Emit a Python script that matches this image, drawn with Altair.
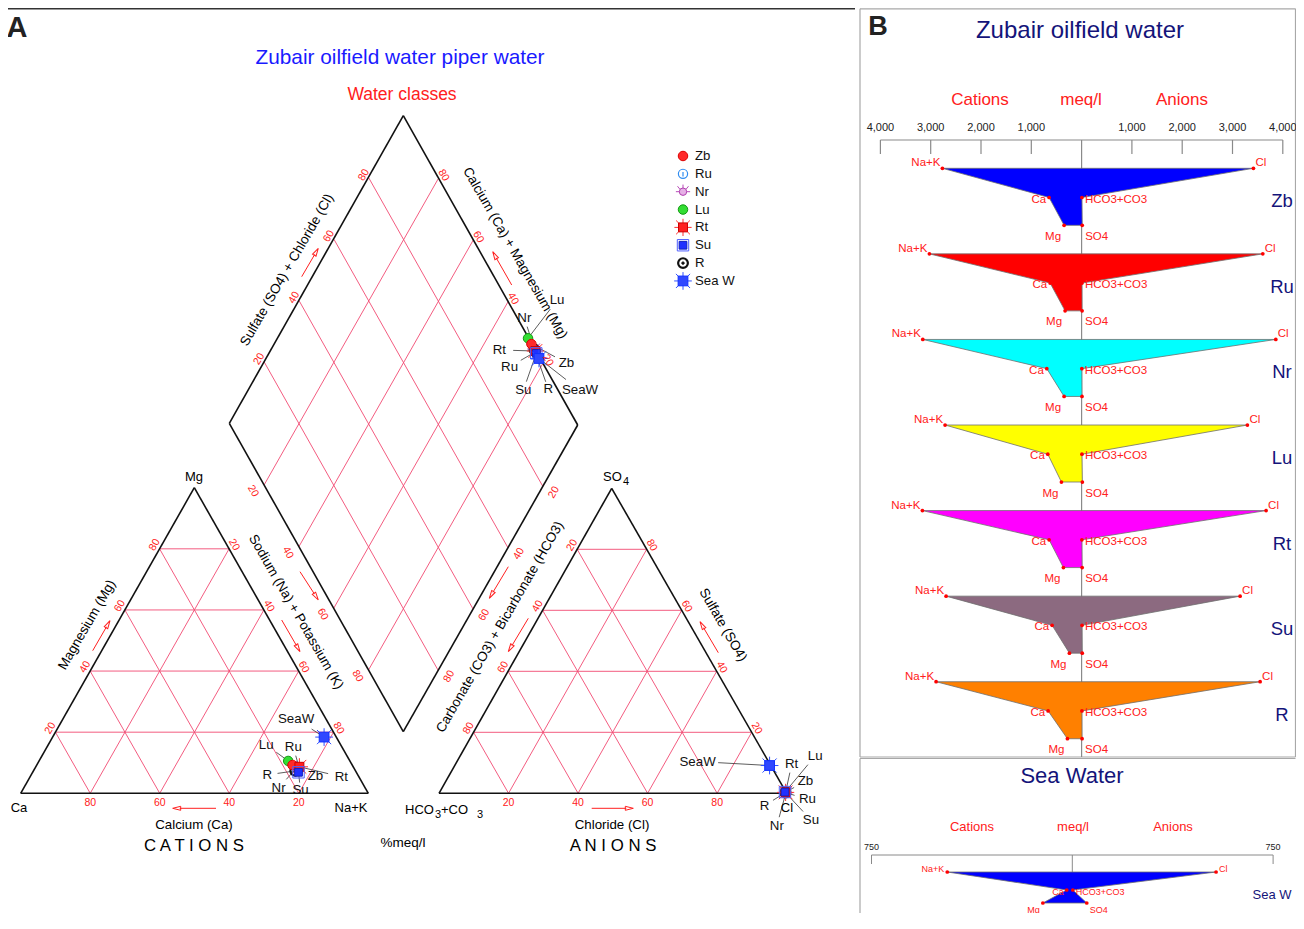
import math
import altair as alt
import pandas as pd

# ---------------- data (meq/l) ----------------
samples = ["Zb", "Ru", "Nr", "Lu", "Rt", "Su", "R"]
na_k = [2767, 3026, 3157, 2714, 3165, 2694, 2893]
ca = [646, 626, 692, 672, 646, 586, 666]
mg = [348, 328, 348, 401, 362, 242, 282]
cl = [3416, 3602, 3861, 3296, 3668, 3151, 3549]
hco3 = [6, 8, 5, 7, 6, 9, 7]
so4 = [12, 10, 8, 15, 11, 13, 9]

sea_sample = "Sea W"
sea_na_k, sea_ca, sea_mg = 467, 21, 110
sea_cl, sea_hco3, sea_so4 = 537, 2, 54

grid_pcts = [20, 40, 60, 80]
stiff_ticks = [1000, 2000, 3000, 4000]
sea_ticks = [750]
stiff_fill = ["#0000ff", "#ff0000", "#00ffff", "#ffff00", "#ff00ff", "#8c6a80", "#ff8000"]
sea_fill = "#0000ff"

# ---------------- layout (page pixel frame) ----------------
X0, X1, Y0, Y1 = 8.0, 1296.0, 8.0, 913.0
xs = alt.Scale(domain=[X0, X1], nice=False, zero=False)
ys = alt.Scale(domain=[Y0, Y1], nice=False, zero=False, reverse=True)
FONT = "Liberation Sans, Arial, Helvetica, sans-serif"
RED = "#ff2020"
GRID = "#f24a72"
NAVY = "#14147a"

CAT = ((20.7, 793.3), (368.3, 793.3), (194.3, 487.7))   # Ca, Na+K, Mg
AN = ((439.0, 793.3), (786.7, 793.3), (611.7, 488.3))    # HCO3, Cl, SO4
DL, DT, DR, DB = (229.3, 423.3), (403.3, 115.7), (577.7, 425.0), (403.3, 731.7)


def tern(tri, r, t):
    (lx, ly), (rx, ry), (tx, ty) = tri
    return (lx + r * (rx - lx) + t * (tx - lx), ly + r * (ry - ly) + t * (ty - ly))


def dia(a, c):
    return (DB[0] + a * (DR[0] - DB[0]) + c * (DL[0] - DB[0]),
            DB[1] + a * (DR[1] - DB[1]) + c * (DL[1] - DB[1]))


def X(f):
    return alt.X(f"{f}:Q", scale=xs, axis=None)


def Y(f):
    return alt.Y(f"{f}:Q", scale=ys, axis=None)


rules, texts, marks, heads, dots = [], [], [], [], []


def rule(p, q, color, w=1.0):
    rules.append(dict(x=p[0], y=p[1], x2=q[0], y2=q[1], color=color, w=w))


def text(x, y, s, size=12.0, color="#000000", angle=0, align="center",
         baseline="middle", weight="normal"):
    texts.append(dict(x=x, y=y, text=str(s), size=size, color=color, angle=angle,
                      align=align, baseline=baseline, weight=weight))


def add(p, d):
    return (p[0] + d[0], p[1] + d[1])


# ---------------- Piper grid ----------------
for tri in (CAT, AN):
    for p in grid_pcts:
        f = p / 100
        for a, b in [((0, f), (1 - f, f)), ((f, 0), (f, 1 - f)), ((1 - f, 0), (0, 1 - f))]:
            rule(tern(tri, *a), tern(tri, *b), GRID, 0.9)
for p in grid_pcts:
    f = p / 100
    rule(dia(f, 0), dia(f, 1), GRID, 0.9)
    rule(dia(0, f), dia(1, f), GRID, 0.9)
for tri in (CAT, AN):
    for i in range(3):
        rule(tri[i], tri[(i + 1) % 3], "#111111", 1.6)
for a, b in [(DL, DT), (DT, DR), (DR, DB), (DB, DL)]:
    rule(a, b, "#111111", 1.6)

# tick labels
TS = 10.5
for p in grid_pcts:
    f = p / 100
    x, y = add(tern(CAT, 1 - f, 0), (0, 9.5)); text(x, y, p, TS, RED)
    x, y = add(tern(CAT, 0, f), (-5, -4)); text(x, y, p, TS, RED, 300)
    x, y = add(tern(CAT, f, 1 - f), (5, -4)); text(x, y, p, TS, RED, 60)
    x, y = add(tern(AN, f, 0), (0, 9.5)); text(x, y, p, TS, RED)
    x, y = add(tern(AN, 0, 1 - f), (-5, -4)); text(x, y, p, TS, RED, 300)
    x, y = add(tern(AN, 1 - f, f), (5, -4)); text(x, y, p, TS, RED, 60)
    x, y = add(dia(f, 1), (-5, -3)); text(x, y, p, TS, RED, 300)
    x, y = add(dia(1, f), (5, -3)); text(x, y, p, TS, RED, 60)
    x, y = add(dia(0, 1 - f), (-11, 6)); text(x, y, p, TS, RED, 60)
    x, y = add(dia(1 - f, 0), (11, 6)); text(x, y, p, TS, RED, 300)

# axis titles and vertex names
AT = 13.5
text(87, 625, "Magnesium (Mg)", AT, angle=300)
text(296, 612, "Sodium (Na) + Potassium (K)", AT, angle=60)
text(194, 825, "Calcium (Ca)", 13.3)
text(194, 846, "C A T I O N S", 16.8)
text(194, 477, "Mg", 13)
text(19, 808, "Ca", 13)
text(351, 808, "Na+K", 13)
text(500, 627, "Carbonate (CO3) + Bicarbonate (HCO3)", AT, angle=300)
text(723, 625, "Sulfate (SO4)", AT, angle=60)
text(612, 825, "Chloride (Cl)", 13.3)
text(613, 846, "A N I O N S", 16.8)
text(603, 477, "SO", 13, align="left")
text(623, 482, "4", 11, align="left")
text(405, 810, "HCO", 13, align="left")
text(435, 814.5, "3", 11, align="left")
text(441, 810, "+CO", 13, align="left")
text(477, 814.5, "3", 11, align="left")
text(787, 808, "Cl", 13)
text(287, 270, "Sulfate (SO4) + Chloride (Cl)", AT, angle=300)
text(515, 253, "Calcium (Ca) + Magnesium (Mg)", AT, angle=60)
text(403, 843, "%meq/l", 13.5)
text(400, 58, "Zubair oilfield water piper water", 20.8, "#1a1aff")
text(402, 95, "Water classes", 17.5, RED)
text(17, 28, "A", 29, "#222222", weight="bold")
rule((X0, 8.8), (855, 8.8), "#333333", 1.6)

# red direction arrows
ARROWS = [((92.7, 650.7), (110, 620.7)), ((281.7, 620), (300, 651.7)),
          ((300, 571.7), (318.3, 600)), ((216, 808.3), (172.7, 808.3)),
          ((508.3, 566.7), (489.3, 598.3)), ((528.3, 618.3), (508.3, 651.7)),
          ((718.3, 652.7), (700, 621.7)), ((591.7, 808.3), (633.3, 808.3)),
          ((301.7, 276.7), (318.3, 248.3)), ((511.7, 285), (492.7, 251.7))]
for (sx, sy), (ex, ey) in ARROWS:
    dx, dy = ex - sx, ey - sy
    L = math.hypot(dx, dy)
    ux, uy = dx / L, dy / L
    rule((sx, sy), (ex - 7 * ux, ey - 7 * uy), RED, 1.0)
    ang = math.degrees(math.atan2(dx, -dy)) % 360
    heads.append(dict(x=ex - 4 * ux, y=ey - 4 * uy, angle=ang))

# ---------------- Piper sample points ----------------
all_names = samples + [sea_sample]
all_na = na_k + [sea_na_k]
all_ca = ca + [sea_ca]
all_mg = mg + [sea_mg]
all_cl = cl + [sea_cl]
all_hco3 = hco3 + [sea_hco3]
all_so4 = so4 + [sea_so4]

STAR = "M-1,-1L1,1M-1,1L1,-1M0,-1.25L0,1.25M-1.25,0L1.25,0"
MARK = {
    "Zb": [("circle", "#ff2a2a", "#dd0000", 90, 1.0)],
    "Ru": [("circle", "#ffffff", "#2f8cf0", 85, 1.2), ("M0,-0.4L0,0.55", "transparent", "#2f8cf0", 85, 1.2)],
    "Nr": [("M-1.3,0L1.3,0M0,-1.3L0,-0.5M-1,-1L-0.6,-0.5M1,-1L0.6,-0.5", "transparent", "#b84ab8", 120, 1.0),
           ("circle", "#e6b0e6", "#b040b0", 55, 1.0)],
    "Lu": [("circle", "#33dd33", "#119911", 90, 1.0)],
    "Rt": [(STAR, "transparent", "#ff3030", 190, 1.0), ("square", "#ff2020", "#cc0000", 80, 1.0)],
    "Su": [("square", "transparent", "#5060ff", 130, 1.0), ("square", "#2030ff", "#1020c0", 60, 1.0)],
    "R": [("circle", "transparent", "#111111", 95, 2.2), ("circle", "#111111", "#111111", 6, 1.0)],
    "Sea W": [(STAR, "transparent", "#3050ff", 200, 1.0), ("square", "#3048ff", "#1030ff", 95, 1.0)],
}
DRAW_ORDER = ["R", "Nr", "Ru", "Lu", "Zb", "Rt", "Su", "Sea W"]
LBL = {
    "cat": {"Sea W": (-28, -18), "Lu": (-22, -16), "Ru": (-6, -21), "R": (-28, 4),
            "Nr": (-18, 20), "Su": (2, 18), "Zb": (23, 11), "Rt": (42, 10)},
    "an": {"Sea W": (-72, -4), "Rt": (6, -28), "Lu": (30, -36), "Zb": (20, -11),
           "Ru": (22, 7), "R": (-21, 13), "Nr": (-9, 33), "Su": (26, 28)},
    "dia": {"Lu": (29, -38), "Nr": (-10, -31), "Rt": (-36, -1), "Ru": (-26, 15),
            "Zb": (35, 19), "Su": (-13, 37), "R": (14, 40), "Sea W": (41, 32)},
}

pos = {"cat": {}, "an": {}, "dia": {}}
for k, s in enumerate(all_names):
    tc = all_na[k] + all_ca[k] + all_mg[k]
    ta = all_cl[k] + all_hco3[k] + all_so4[k]
    pos["cat"][s] = tern(CAT, all_na[k] / tc, all_mg[k] / tc)
    pos["an"][s] = tern(AN, all_cl[k] / ta, all_so4[k] / ta)
    pos["dia"][s] = dia((all_cl[k] + all_so4[k]) / ta, (all_ca[k] + all_mg[k]) / tc)

label_rules = []
for where in ("cat", "an", "dia"):
    for s in all_names:
        px, py = pos[where][s]
        dx, dy = LBL[where][s]
        lx, ly = px + dx, py + dy
        name = "SeaW" if s == sea_sample else s
        text(lx, ly, name, 13.3, "#111111")
        L = math.hypot(dx, dy)
        ux, uy = -dx / L, -dy / L
        g = 7 + abs(ux) * 3.4 * len(name)
        label_rules.append(dict(x=lx + ux * g, y=ly + uy * g, x2=px, y2=py, color="#333333", w=0.8))
rules.extend(label_rules)

legend_y0, legend_dy = 156.0, 17.85
for k, s in enumerate(all_names):
    ly = legend_y0 + k * legend_dy
    text(695, ly, s, 13.2, "#111111", align="left")
    for shp, fil, stk, size, sw in MARK[s]:
        marks.append(dict(x=683, y=ly, shape=shp, fill=fil, stroke=stk, size=size, sw=sw))
for s in DRAW_ORDER:
    for where in ("dia", "cat", "an"):
        px, py = pos[where][s]
        for shp, fil, stk, size, sw in MARK[s]:
            marks.append(dict(x=px, y=py, shape=shp, fill=fil, stroke=stk, size=size, sw=sw))

# ---------------- Stiff diagrams (panel B) ----------------
BOX = "#a8a8a8"
rule((860, 8.8), (1295.5, 8.8), BOX, 1.2)
rule((860, 8.8), (860, 757), BOX, 1.2)
rule((1295.5, 8.8), (1295.5, 757), BOX, 1.2)
rule((860, 757), (1295.5, 757), BOX, 1.2)
rule((860, 758.5), (1295.5, 758.5), BOX, 1.2)
rule((860, 758.5), (860, Y1), BOX, 1.2)

text(878, 27, "B", 27, "#222222", weight="bold")
text(1080, 31, "Zubair oilfield water", 24, NAVY)
SC, SPX = 1081.6, 201.2 / 4000
text(980, 100, "Cations", 17, RED)
text(1081, 100, "meq/l", 17, RED)
text(1182, 100, "Anions", 17, RED)
AX = "#8a8a8a"
rule((SC - 4000 * SPX, 140), (SC + 4000 * SPX, 140), AX, 1.2)
rule((SC, 140), (SC, 757), AX, 1.2)
for v in stiff_ticks:
    for sgn in (-1, 1):
        x = SC + sgn * v * SPX
        rule((x, 140), (x, 154), AX, 1.2)
        text(x, 128, f"{v:,}", 11, "#222222")

area_rows = []


def stiff(name, fillc, vals, cx, sc, yt, ym, yb, fs, offs):
    nk, c_, m_, cl_, h_, s_ = vals
    pts = [(yt, cx - nk * sc, cx + cl_ * sc), (ym, cx - c_ * sc, cx + h_ * sc),
           (yb, cx - m_ * sc, cx + s_ * sc)]
    for y, xl, xr in pts:
        area_rows.append(dict(sample=name, y=y, xl=xl, xr=xr, fill=fillc))
        dots.append(dict(x=xl, y=y))
        dots.append(dict(x=xr, y=y))
    (y0, l0, r0), (y1, l1, r1), (y2, l2, r2) = pts
    o = offs
    text(l0 - o[0], y0 + o[1], "Na+K", fs, RED, align="right")
    text(r0 + o[0], y0 + o[1], "Cl", fs, RED, align="left")
    text(l1 - 3, y1 + o[2], "Ca", fs, RED, align="right")
    text(r1 + 3, y1 + o[2], "HCO3+CO3", fs, RED, align="left")
    text(l2 - 3, y2 + o[3], "Mg", fs, RED, align="right")
    text(r2 + 3, y2 + o[3], "SO4", fs, RED, align="left")


ROW0, ROWD = 168.3, 85.57
for i, s in enumerate(samples):
    yt = ROW0 + i * ROWD
    stiff(s, stiff_fill[i], (na_k[i], ca[i], mg[i], cl[i], hco3[i], so4[i]), SC, SPX,
          yt, yt + 29.2, yt + 57.0, 11.5, (2, -5, 2, 11.5))
    text(1282, yt + 33, s, 18.5, NAVY)

# Sea water panel
SSC, SSPX = 1072.3, 200.8 / 750
text(1072, 776, "Sea Water", 22, NAVY)
text(972, 827, "Cations", 13, RED)
text(1073, 827, "meq/l", 13, RED)
text(1173, 827, "Anions", 13, RED)
rule((SSC - 750 * SSPX, 855), (SSC + 750 * SSPX, 855), AX, 1.0)
rule((SSC, 855), (SSC, 872), AX, 1.0)
for v in sea_ticks:
    for sgn in (-1, 1):
        x = SSC + sgn * v * SSPX
        rule((x, 855), (x, 864), AX, 1.0)
        text(x, 847, f"{v}", 9, "#222222")
stiff(sea_sample, sea_fill, (sea_na_k, sea_ca, sea_mg, sea_cl, sea_hco3, sea_so4), SSC, SSPX,
      872, 890, 903, 9, (3, -3, 1.5, 6.5))
text(1272, 895, "Sea W", 13, NAVY)

# ---------------- build layers ----------------
layers = []
rdf = pd.DataFrame(rules)
layers.append(alt.Chart(rdf).mark_rule().encode(
    x=X("x"), y=Y("y"), x2="x2:Q", y2="y2:Q",
    color=alt.Color("color:N", scale=None),
    strokeWidth=alt.StrokeWidth("w:Q", scale=None)))

adf = pd.DataFrame(area_rows)
layers.append(alt.Chart(adf).mark_area(orient="horizontal", stroke="#6e6e6e", strokeWidth=0.8,
                                       opacity=1, interpolate="linear").encode(
    y=Y("y"), x=alt.X("xl:Q", scale=xs, axis=None, stack=None), x2="xr:Q",
    fill=alt.Fill("fill:N", scale=None), detail="sample:N"))

layers.append(alt.Chart(pd.DataFrame(dots)).mark_circle(size=14, color="#ff0000", opacity=1).encode(
    x=X("x"), y=Y("y")))

hdf = pd.DataFrame(heads)
layers.append(alt.Chart(hdf).mark_point(shape="M0,-1L0.5,1L-0.5,1Z", size=64, filled=False,
                                        color=RED, strokeWidth=1, opacity=1).encode(
    x=X("x"), y=Y("y"), angle=alt.Angle("angle:Q", scale=None)))

mdf = pd.DataFrame(marks)
layers.append(alt.Chart(mdf).mark_point(filled=True, opacity=1).encode(
    x=X("x"), y=Y("y"),
    shape=alt.Shape("shape:N", scale=None),
    fill=alt.Fill("fill:N", scale=None),
    stroke=alt.Stroke("stroke:N", scale=None),
    size=alt.Size("size:Q", scale=None),
    strokeWidth=alt.StrokeWidth("sw:Q", scale=None)))

tdf = pd.DataFrame(texts)
for (al, bl, wt), g in tdf.groupby(["align", "baseline", "weight"]):
    layers.append(alt.Chart(g.reset_index(drop=True)).mark_text(
        align=al, baseline=bl, fontWeight=wt, font=FONT).encode(
        x=X("x"), y=Y("y"), text="text:N",
        size=alt.Size("size:Q", scale=None),
        color=alt.Color("color:N", scale=None),
        angle=alt.Angle("angle:Q", scale=None)))

chart = alt.layer(*layers).properties(
    width=X1 - X0, height=Y1 - Y0, padding=0,
    autosize=alt.AutoSizeParams(type="none"),
    background="white",
).configure_view(stroke=None)

chart.save("out.html", embed_options={"renderer": "svg", "actions": False})
